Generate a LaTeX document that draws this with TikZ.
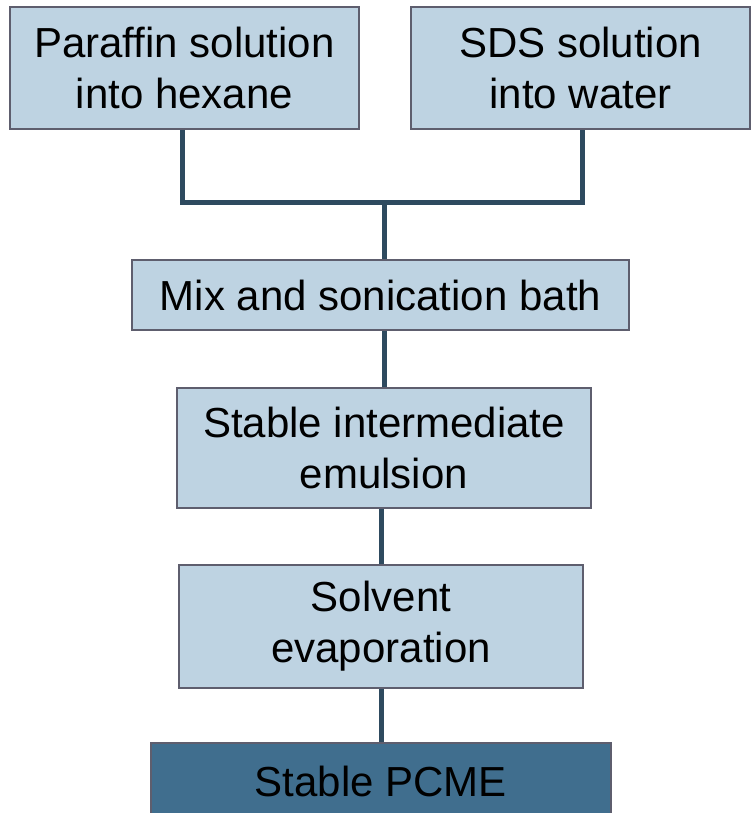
\documentclass[tikz,border=0pt]{standalone}
\usepackage{fontspec}
\setmainfont{Liberation Sans}
\definecolor{boxfill}{HTML}{BED3E2}
\definecolor{boxedge}{HTML}{5E5E6E}
\definecolor{darkfill}{HTML}{406E8E}
\definecolor{linkcol}{HTML}{2E4A5F}
\tikzset{
  stepbox/.style={draw=boxedge, line width=1.5pt, fill=boxfill, inner sep=0pt, align=center,
    font=\fontsize{42}{51}\selectfont, text=black},
  finalbox/.style={stepbox, fill=darkfill},
  link/.style={draw=linkcol, line width=5pt}
}
\begin{document}
\begin{tikzpicture}[x=1pt,y=-1pt]
\useasboundingbox (0,0) rectangle (753,813);
\clip (0,0) rectangle (753,813);
\node[stepbox, minimum width=349pt, minimum height=122pt] (B1) at (184.5,68) {Paraffin solution\\into hexane};
\node[stepbox, minimum width=339pt, minimum height=122pt] (B2) at (580.5,68) {SDS solution\\into water};
\node[stepbox, minimum width=497pt, minimum height=70pt] (B3) at (380.5,295) {Mix and sonication bath};
\node[stepbox, minimum width=414pt, minimum height=120pt] (B4) at (384,448) {Stable intermediate\\emulsion};
\node[stepbox, minimum width=404pt, minimum height=123pt] (B5) at (381,626.5) {Solvent\\evaporation};
\node[finalbox, minimum width=460pt, minimum height=76pt] (B6) at (381,781) {Stable PCME};
\coordinate (J) at (384,202);
\coordinate (L) at (182,202);
\coordinate (R) at (582,202);
\draw[link] (L |- B1.south) -- (L) -- (R) -- (R |- B2.south);
\draw[link] (J) -- (J |- B3.north);
\draw[link] (J |- B3.south) -- (J |- B4.north);
\draw[link] (B4.south) ++(-3,0) coordinate (K) -- (K |- B5.north);
\draw[link] (B5.south) -- (B6.north);
\end{tikzpicture}
\end{document}
